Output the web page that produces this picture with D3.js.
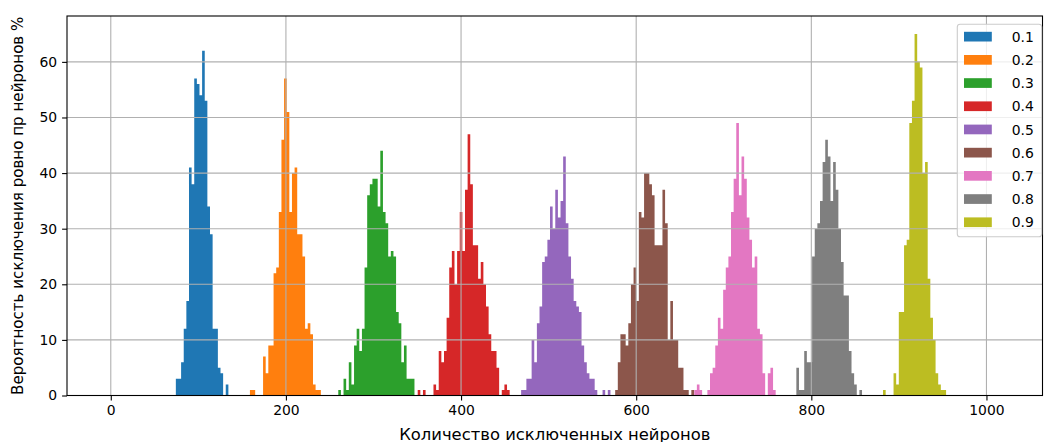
<!DOCTYPE html>
<html>
<head>
<meta charset="utf-8">
<script src="https://cdn.jsdelivr.net/npm/d3@7"></script>
<style>
  body { margin: 0; background: #fff; }
  text { font-family: "DejaVu Sans", sans-serif; }
</style>
</head>
<body>
<svg id="chart" width="1044" height="442"></svg>
<script>
// legend labels (probability of dropping a neuron)
const labels = ["0.1", "0.2", "0.3", "0.4", "0.5", "0.6", "0.7", "0.8", "0.9"];
const colors = ["#1f77b4", "#ff7f0e", "#2ca02c", "#d62728", "#9467bd",
                "#8c564b", "#e377c2", "#7f7f7f", "#bcbd22"];

// left edge of the first bin of every histogram, bins are binWidth wide
const binStart = [74.3, 158.9, 259.8, 350.5, 468.6, 576, 666.3, 782.9, 881.9];
const binWidth = 3;

// bar heights, one value per bin
const counts01 = [3, 3, 6, 12, 17, 41, 38, 57, 56, 54, 62, 53, 34, 29, 12, 12, 5, 4, 0, 2];
const counts02 = [1, 1, 0, 0, 0, 7, 4, 9, 9, 22, 23, 33, 46, 57, 51, 33, 40, 41, 29, 29, 25, 12, 13, 11, 2, 1, 1];
const counts03 = [1, 0, 3, 1, 6, 2, 9, 12, 8, 12, 23, 36, 38, 39, 39, 34, 44, 33, 31, 25, 26, 25, 15, 13, 6, 9, 3, 3, 3];
const counts04 = [1, 0, 1, 0, 0, 0, 2, 1, 8, 6, 8, 14, 23, 26, 20, 26, 33, 26, 37, 47, 38, 27, 27, 21, 24, 20, 16, 11, 8, 8, 5, 0, 1, 2, 1];
const counts05 = [1, 1, 3, 3, 10, 6, 13, 16, 24, 25, 28, 34, 30, 37, 32, 35, 43, 31, 25, 21, 17, 16, 15, 9, 6, 4, 3, 3, 1, 0, 0, 1, 0, 1];
const counts06 = [1, 6, 11, 11, 9, 13, 20, 23, 17, 33, 32, 40, 40, 38, 36, 27, 27, 27, 37, 31, 10, 17, 10, 10, 5, 5, 1, 1, 0, 1];
const counts07 = [1, 2, 1, 0, 0, 1, 4, 5, 9, 14, 12, 19, 23, 25, 33, 39, 49, 36, 43, 39, 32, 28, 23, 25, 12, 11, 4, 0, 4, 5, 1];
const counts08 = [5, 1, 1, 8, 6, 6, 25, 30, 31, 35, 42, 46, 43, 35, 42, 37, 30, 24, 18, 18, 8, 4, 2, 0, 1];
const counts09 = [1, 0, 0, 0, 4, 2, 15, 15, 27, 28, 49, 53, 65, 60, 59, 40, 42, 21, 14, 10, 4, 2, 1, 1];
const counts = [counts01, counts02, counts03, counts04, counts05, counts06, counts07, counts08, counts09];

const xTicks = [0, 200, 400, 600, 800, 1000];
const yTicks = [0, 10, 20, 30, 40, 50, 60];
const xTitle = "Количество исключенных нейронов";
const yTitle = "Вероятность исключения ровно пр нейронов %";

const plot = {left: 67, top: 16, right: 1042.5, bottom: 395.5};
const fontSize = 13.9;

const svg = d3.select("#chart");

const x = d3.scaleLinear().domain([-50, 1064]).range([plot.left, plot.right]);
const y = d3.scaleLinear().domain([0, 68.25]).range([plot.bottom, plot.top]);

// bars: one path per histogram so neighbouring bins don't show seams
const bars = svg.append("g");
counts.forEach((series, i) => {
    const p = d3.path();
    series.forEach((v, k) => {
        if (v <= 0) return;
        const x0 = x(binStart[i] + k * binWidth);
        const x1 = x(binStart[i] + (k + 1) * binWidth);
        p.rect(x0, y(v), x1 - x0, y(0) - y(v));
    });
    bars.append("path")
        .attr("d", p.toString())
        .attr("fill", colors[i]);
});

// grid on top of the bars, like matplotlib does
const grid = svg.append("g")
    .attr("stroke", "#b0b0b0")
    .attr("stroke-width", 1.1);
grid.selectAll(".vx")
    .data(xTicks)
    .join("line")
    .attr("x1", d => x(d)).attr("x2", d => x(d))
    .attr("y1", plot.top).attr("y2", plot.bottom);
grid.selectAll(".hy")
    .data(yTicks)
    .join("line")
    .attr("x1", plot.left).attr("x2", plot.right)
    .attr("y1", d => y(d)).attr("y2", d => y(d));

// axes
const xAxis = svg.append("g")
    .attr("transform", `translate(0,${plot.bottom})`)
    .call(d3.axisBottom(x).tickValues(xTicks).tickFormat(d3.format("d")).tickSize(4.9).tickPadding(4.9));
const yAxis = svg.append("g")
    .attr("transform", `translate(${plot.left},0)`)
    .call(d3.axisLeft(y).tickValues(yTicks).tickFormat(d3.format("d")).tickSize(4.9).tickPadding(4.9));

[xAxis, yAxis].forEach(a => {
    a.select(".domain").remove();
    a.selectAll(".tick line").attr("stroke", "#000").attr("stroke-width", 1.1);
    a.selectAll(".tick text")
        .attr("fill", "#000")
        .style("font-family", "DejaVu Sans")
        .style("font-size", fontSize + "px");
});

// frame
svg.append("rect")
    .attr("x", plot.left)
    .attr("y", plot.top)
    .attr("width", plot.right - plot.left)
    .attr("height", plot.bottom - plot.top)
    .attr("fill", "none")
    .attr("stroke", "#000")
    .attr("stroke-width", 1.1);

// axis titles
svg.append("text")
    .attr("x", (plot.left + plot.right) / 2)
    .attr("y", 434)
    .attr("text-anchor", "middle")
    .attr("dominant-baseline", "central")
    .style("font-size", "16.4px")
    .text(xTitle);
svg.append("text")
    .attr("transform", `translate(18.3,${(plot.top + plot.bottom) / 2}) rotate(-90)`)
    .attr("text-anchor", "middle")
    .attr("dominant-baseline", "central")
    .style("font-size", "15.1px")
    .text(yTitle);

// legend
const legend = svg.append("g");
legend.append("rect")
    .attr("x", 957.3)
    .attr("y", 24.3)
    .attr("width", 84.4)
    .attr("height", 212.4)
    .attr("rx", 2.8)
    .attr("fill", "#fff")
    .attr("fill-opacity", 0.8)
    .attr("stroke", "#cccccc")
    .attr("stroke-width", 1.1);
const rowY = i => 36.7 + i * 23.2;
legend.selectAll(".sw")
    .data(labels)
    .join("rect")
    .attr("x", 964)
    .attr("y", (d, i) => rowY(i) - 4.9)
    .attr("width", 27.8)
    .attr("height", 9.7)
    .attr("fill", (d, i) => colors[i]);
legend.selectAll(".lb")
    .data(labels)
    .join("text")
    .attr("x", 1011.7)
    .attr("y", (d, i) => rowY(i))
    .attr("dominant-baseline", "central")
    .style("font-size", fontSize + "px")
    .text(d => d);
</script>
</body>
</html>
